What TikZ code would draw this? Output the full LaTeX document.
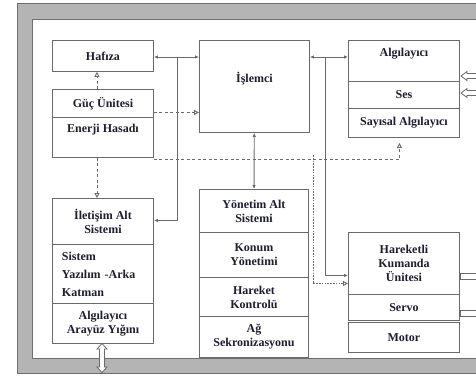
\documentclass[tikz,border=0pt]{standalone}
\usepackage{fontspec}
\setmainfont{Liberation Serif}
\usepackage{tikz}
\usetikzlibrary{arrows.meta}

\definecolor{framegray}{HTML}{B4B4B4}
\definecolor{framedark}{HTML}{6E6E6E}
\definecolor{boxgray}{HTML}{6A6A6A}
\definecolor{txt}{HTML}{1E1E2E}

\tikzset{
  blok/.style={draw=boxgray, line width=0.9pt, fill=white, anchor=north west,
    align=center, inner sep=1pt, text=txt,
    font=\fontsize{12}{14}\selectfont\bfseries},
  ok/.style={draw=boxgray, line width=0.9pt, -{Latex[length=4pt, width=3.5pt]}},
  ciftok/.style={draw=boxgray, line width=0.9pt, {Latex[length=4pt, width=3.5pt]}-{Latex[length=4pt, width=3.5pt]}},
  kesik/.style={draw=boxgray, line width=0.9pt, dash pattern=on 3pt off 2.5pt,
    -{Triangle[open, length=5pt, width=5pt]}},
  noktali/.style={draw=boxgray, line width=0.9pt, dash pattern=on 1.6pt off 1.2pt,
    -{Triangle[open, length=5pt, width=5pt]}},
  bosok/.style={draw=boxgray, line width=0.8pt, fill=white, line join=miter}
}

\begin{document}
\begin{tikzpicture}[x=1pt, y=-1pt]
  \useasboundingbox (0,0) rectangle (476,375);
  \clip (0,0) rectangle (476,375);

  % frame
  \draw[fill=framegray, draw=framedark, line width=1pt] (17.5,3.5) rectangle (490,373.5);
  \draw[fill=white, draw=framedark, line width=1pt] (32,19) rectangle (490,358);

  % left column
  \node[blok, minimum width=101pt, minimum height=31pt] (hafiza) at (52,40) {Hafıza};
  \node[blok, minimum width=101pt, minimum height=28pt] (guc) at (52,89) {Güç Ünitesi};
  \node[blok, minimum width=101pt, minimum height=40pt] (enerji) at (52,117) {Enerji Hasadı\\\strut};
  \node[blok, minimum width=101pt, minimum height=46pt] (iletisim) at (52,198) {İletişim Alt\\Sistemi};
  \node[blok, minimum width=101pt, minimum height=59pt, align=left, text width=82pt] (sistem) at (52,244) {Sistem\\[4pt]Yazılım -Arka\\[4pt]Katman};
  \node[blok, minimum width=101pt, minimum height=40pt] (arayuz) at (52,303) {Algılayıcı\\Arayüz Yığını};

  % middle column
  \node[blok, minimum width=110pt, minimum height=92pt] (islemci) at (199,40) {İşlemci\\\strut};
  \node[blok, minimum width=109pt, minimum height=43pt] (yonetim) at (199,189) {Yönetim Alt\\Sistemi};
  \node[blok, minimum width=109pt, minimum height=45pt] (konum) at (199,232) {Konum\\Yönetimi};
  \node[blok, minimum width=109pt, minimum height=39pt] (hareket) at (199,277) {Hareket\\Kontrolü};
  \node[blok, minimum width=109pt, minimum height=41pt] (ag) at (199,316) {Ağ\\Sekronizasyonu};

  % right column
  \node[blok, minimum width=111pt, minimum height=41pt] (algilayici) at (348,40) {Algılayıcı\\\strut};
  \node[blok, minimum width=111pt, minimum height=27pt] (ses) at (348,81) {Ses};
  \node[blok, minimum width=111pt, minimum height=29pt] (sayisal) at (348,108) {Sayısal Algılayıcı};
  \node[blok, minimum width=111pt, minimum height=62pt] (hareketli) at (348,232) {Hareketli\\Kumanda\\Ünitesi};
  \node[blok, minimum width=111pt, minimum height=26pt] (servo) at (348,294) {Servo};
  \node[blok, minimum width=111pt, minimum height=30pt] (motor) at (348,322) {Motor};

  % data bus
  \coordinate (bus1) at (177,57);
  \coordinate (bus2) at (325,57);
  \draw[ciftok] (hafiza.east |- bus1) -- (islemci.west |- bus1);
  \draw[ciftok] (islemci.east |- bus2) -- (algilayici.west |- bus2);
  \draw[ok] (bus1) |- ([yshift=1pt]iletisim.east);
  \draw[ok] (bus2) |- ([yshift=-12pt]hareketli.west);
  \draw[ciftok] (islemci) -- (yonetim);

  % power lines
  \draw[kesik] ([xshift=-6pt]guc.north) -- ([xshift=-6pt]hafiza.south);
  \draw[kesik] ([yshift=-9pt]guc.east) -- ([yshift=-9pt]guc.east -| islemci.west);
  \draw[kesik] ([xshift=-6pt]enerji.south) -- ([xshift=-6pt]iletisim.north);
  \coordinate (ayrim) at (313,155);
  \draw[kesik, shorten >=5pt] ([yshift=-2pt]enerji.south east) -| ([xshift=-4.5pt]sayisal.south);
  \draw[noktali] (ayrim) |- ([yshift=-20pt]hareketli.west);

  % outside connections
  \foreach \y in {76,93}
    \draw[bosok] (461,\y) -- (467,\y-4.5) -- (467,\y-2.5) -- (480,\y-2.5)
      -- (480,\y+2.5) -- (467,\y+2.5) -- (467,\y+4.5) -- cycle;
  \foreach \y in {276,313}
    \draw[bosok] (460,\y-3) rectangle (482,\y+3);
  \draw[bosok] (102,343.5) -- (107,349) -- (104.5,349) -- (104.5,367) -- (107,367)
    -- (102,372.5) -- (97,367) -- (99.5,367) -- (99.5,349) -- (97,349) -- cycle;
\end{tikzpicture}
\end{document}
